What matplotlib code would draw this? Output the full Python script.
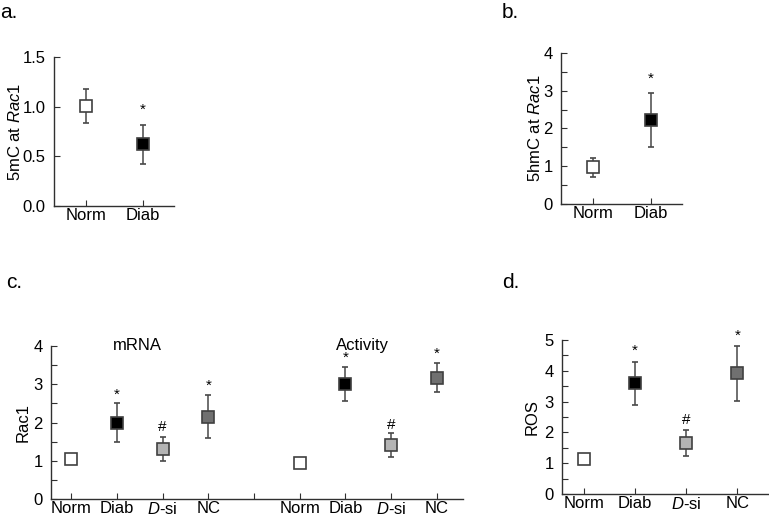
import numpy as np
import matplotlib
matplotlib.use("Agg")
import matplotlib.pyplot as plt
from matplotlib.ticker import MultipleLocator

plt.rcParams["font.family"] = ["Liberation Sans", "DejaVu Sans"]
plt.rcParams["mathtext.fontset"] = "custom"
plt.rcParams["mathtext.rm"] = "Liberation Sans"
plt.rcParams["mathtext.it"] = "Liberation Sans:italic"
plt.rcParams["font.size"] = 12

# ── Data ──────────────────────────────────────────────────────────────────
# panel a: 5mC at Rac1
a_labels = ["Norm", "Diab"]
a_vals   = [1.01, 0.62]
a_err    = [0.17, 0.20]
a_marks  = ["", "*"]
a_markpos = [None, 0.97]

# panel b: 5hmC at Rac1
b_labels = ["Norm", "Diab"]
b_vals   = [0.97, 2.22]
b_err    = [0.25, 0.72]
b_marks  = ["", "*"]
b_markpos = [None, 3.31]

# panel c: Rac1 mRNA / Activity (x=5 is an empty spacer tick)
c_labels = ["Norm", "Diab", "$\\mathit{D}$-si", "NC", "", "Norm", "Diab", "$\\mathit{D}$-si", "NC"]
c_pos    = [1, 2, 3, 4, 6, 7, 8, 9]
c_vals   = [1.04, 2.00, 1.31, 2.15, 0.93, 3.00, 1.41, 3.17]
c_err    = [0.05, 0.52, 0.31, 0.56, 0.05, 0.45, 0.31, 0.38]
c_marks  = ["", "*", "#", "*", "", "*", "#", "*"]
c_markpos = [None, 2.72, 1.89, 2.95, None, 3.68, 1.93, 3.81]

# panel d: ROS
d_labels = ["Norm", "Diab", "$\\mathit{D}$-si", "NC"]
d_vals   = [1.14, 3.59, 1.65, 3.92]
d_err    = [0.05, 0.70, 0.42, 0.90]
d_marks  = ["", "*", "#", "*"]
d_markpos = [None, 4.64, 2.40, 5.15]

# group fills: Norm, Diab, D-si, NC
fills = {"Norm": "white", "Diab": "black", "D-si": "#b4b4b4", "NC": "#707070"}
grp4 = ["Norm", "Diab", "D-si", "NC"]

EDGE = "#404040"


def draw(ax, xs, vals, errs, groups, marks, markpos):
    for x, v, e, g, m, mp in zip(xs, vals, errs, groups, marks, markpos):
        ax.errorbar(x, v, yerr=e, fmt="s", ms=9, mfc=fills[g], mec=EDGE, mew=1.2,
                    ecolor="#484848", elinewidth=1.1, capsize=2.5, capthick=1.1)
        if m:
            ax.text(x, mp, m, ha="center", va="center", fontsize=11)


def style(ax):
    for s in ["top", "right"]:
        ax.spines[s].set_visible(False)
    for s in ["left", "bottom"]:
        ax.spines[s].set_color("#303030")
        ax.spines[s].set_linewidth(1.0)
    ax.tick_params(which="both", direction="in", color="#303030", width=0.8)
    ax.tick_params(which="major", length=4)
    ax.tick_params(which="minor", length=4)
    ax.tick_params(axis="y", pad=6)
    ax.tick_params(axis="x", pad=1.5)


fig = plt.figure(figsize=(7.69, 5.16), dpi=100)

# ── a ──
ax = fig.add_axes([0.0702, 0.6008, 0.156, 0.2888])
draw(ax, [1, 2], a_vals, a_err, ["Norm", "Diab"], a_marks, a_markpos)
ax.set_xlim(0.44, 2.54)
ax.set_ylim(0, 1.5)
ax.yaxis.set_major_locator(MultipleLocator(0.5))
ax.yaxis.set_major_formatter(plt.FormatStrFormatter("%.1f"))
ax.set_xticks([1, 2])
ax.set_xticklabels(a_labels)
ax.set_ylabel("5mC at $\\mathit{Rac1}$", labelpad=0)
style(ax)

# ── b ──
ax = fig.add_axes([0.7295, 0.6047, 0.1573, 0.2926])
draw(ax, [1, 2], b_vals, b_err, ["Norm", "Diab"], b_marks, b_markpos)
ax.set_xlim(0.45, 2.53)
ax.set_ylim(0, 4)
ax.yaxis.set_major_locator(MultipleLocator(1))
ax.yaxis.set_minor_locator(MultipleLocator(0.5))
ax.set_xticks([1, 2])
ax.set_xticklabels(b_labels)
ax.set_ylabel("5hmC at $\\mathit{Rac1}$", labelpad=0)
style(ax)

# ── c ──
ax = fig.add_axes([0.0663, 0.0329, 0.5358, 0.2965])
draw(ax, c_pos, c_vals, c_err, grp4 + grp4, c_marks, c_markpos)
ax.set_xlim(0.56, 9.57)
ax.set_ylim(0, 4)
ax.yaxis.set_major_locator(MultipleLocator(1))
ax.yaxis.set_minor_locator(MultipleLocator(0.5))
ax.set_xticks(range(1, 10))
ax.set_xticklabels(c_labels)
ax.set_ylabel("Rac1", labelpad=2)
ax.text(2.46, 4.02, "mRNA", ha="center", va="center")
ax.text(7.37, 4.02, "Activity", ha="center", va="center")
style(ax)

# ── d ──
ax = fig.add_axes([0.7308, 0.0426, 0.2679, 0.2984])
draw(ax, [1, 2, 3, 4], d_vals, d_err, grp4, d_marks, d_markpos)
ax.set_xlim(0.57, 4.6)
ax.set_ylim(0, 5)
ax.yaxis.set_major_locator(MultipleLocator(1))
ax.yaxis.set_minor_locator(MultipleLocator(0.5))
ax.set_xticks([1, 2, 3, 4])
ax.set_xticklabels(d_labels)
ax.set_ylabel("ROS", labelpad=3)
style(ax)

# panel letters
for x, y, t in [(0.0, 0.975, "a."), (0.653, 0.975, "b."), (0.008, 0.452, "c."), (0.653, 0.452, "d.")]:
    fig.text(x, y, t, fontsize=15, ha="left", va="center")

fig.savefig("out.png", dpi=100)
